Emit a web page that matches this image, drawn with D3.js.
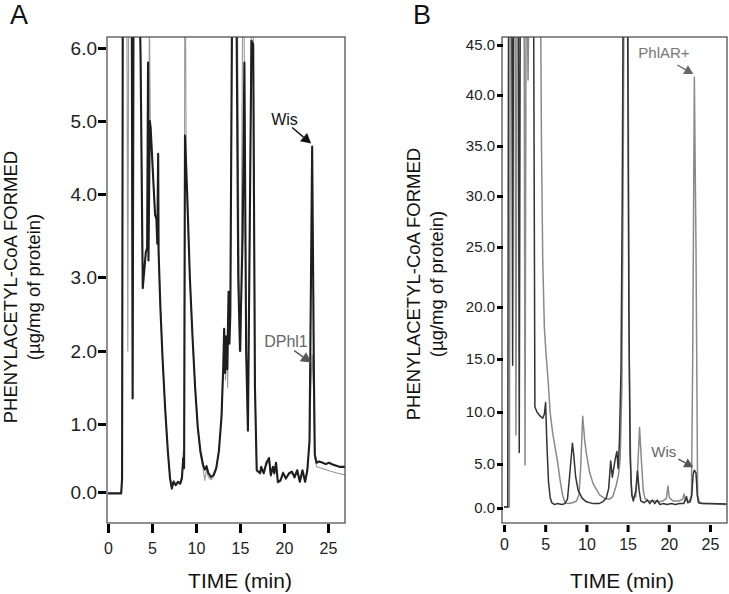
<!DOCTYPE html>
<html><head><meta charset="utf-8">
<script src="https://cdn.jsdelivr.net/npm/d3@7"></script>
<style>
body{margin:0;background:#fff}
svg{display:block}
text{font-family:"Liberation Sans",Arial,Helvetica,sans-serif}
</style>
</head><body>
<svg id="c" width="729" height="594"></svg>
<script>
// ---------------- DATA ----------------
const xTickValues = [0, 5, 10, 15, 20, 25];
const aYTickValues = [0, 1, 2, 3, 4, 5, 6];
const bYTickValues = [0, 5, 10, 15, 20, 25, 30, 35, 40, 45];
const panelLabels = ["A", "B"];
const yTitleLine1 = "PHENYLACETYL-CoA FORMED";
const yTitleLine2 = "(µg/mg of protein)";
const xTitle = "TIME (min)";

// Panel A, black trace (Wis) [time, value]
const aWis = [[0,-0.02],[1.5,-0.02],[1.6,0.2],[1.68,6.6],[2.7,6.6],[2.8,1.35],[2.9,6.6],[3.6,6.6],[3.7,5.9],[3.95,2.85],
 [4.3,3.3],[4.45,3.35],[4.55,5.8],[4.6,3.2],[4.75,5.0],[4.85,4.9],[5.1,4.3],[5.35,3.75],[5.5,3.7],[5.6,3.4],[5.7,4.55],
 [5.75,3.3],[5.95,2.6],[6.2,1.9],[6.5,1.2],[6.8,0.6],[7.05,0.2],[7.25,0.05],[7.45,0.15],[7.7,0.1],[7.95,0.15],[8.2,0.12],
 [8.4,0.2],[8.55,0.5],[8.65,0.35],[8.75,4.8],[9.0,4.0],[9.3,3.0],[9.6,2.2],[9.9,1.5],[10.2,0.95],[10.5,0.6],[10.8,0.4],
 [11.0,0.33],[11.2,0.38],[11.4,0.28],[11.7,0.22],[12.0,0.25],[12.3,0.35],[12.6,0.6],[12.9,1.1],[13.1,1.8],[13.2,2.3],
 [13.3,1.7],[13.45,2.2],[13.55,1.75],[13.7,2.8],[13.8,2.1],[13.9,2.5],[14.1,6.6],[14.6,6.6],[14.8,3.0],[15.0,2.0],
 [15.3,3.5],[15.5,5.8],[15.7,2.0],[15.9,0.9],[16.1,3.5],[16.3,6.1],[16.5,6.05],[16.7,1.5],[16.9,0.32],[17.3,0.28],
 [17.4,0.37],[17.7,0.28],[18.0,0.43],[18.3,0.5],[18.5,0.25],[18.75,0.37],[18.9,0.28],[19.1,0.43],[19.3,0.15],[19.6,0.17],
 [19.9,0.28],[20.2,0.2],[20.6,0.28],[20.9,0.3],[21.2,0.22],[21.5,0.32],[21.8,0.15],[22.1,0.32],[22.4,0.15],[22.65,0.32],
 [22.9,0.75],[23.0,2.1],[23.2,4.65],[23.4,1.65],[23.5,0.55],[23.7,0.43],[24.0,0.45],[24.4,0.43],[24.75,0.41],[25.1,0.43],
 [25.6,0.4],[26.3,0.37],[27.0,0.37]];

// Panel A, grey trace (DPhl1)
const aDPhl1 = [[0,-0.02],[1.5,-0.02],[1.6,0.2],[1.68,6.6],[2.15,6.6],[2.25,2.0],[2.35,6.6],[2.7,6.6],[2.8,1.4],[2.9,6.6],
 [3.6,6.6],[3.7,5.9],[3.95,2.9],[4.3,3.3],[4.45,3.35],[4.55,5.8],[4.6,3.2],[4.7,6.6],[4.8,5.0],[4.9,4.8],[5.1,4.3],
 [5.35,3.75],[5.5,3.7],[5.75,3.3],[5.95,2.6],[6.2,1.9],[6.5,1.2],[6.8,0.6],[7.05,0.22],[7.25,0.08],[7.45,0.17],[7.7,0.12],
 [7.95,0.15],[8.2,0.14],[8.4,0.25],[8.55,0.6],[8.65,0.4],[8.72,6.6],[8.8,6.6],[8.9,4.2],[9.3,3.0],[9.6,2.2],[9.9,1.5],
 [10.2,0.95],[10.5,0.55],[10.8,0.35],[11.0,0.17],[11.2,0.33],[11.4,0.22],[11.7,0.18],[12.0,0.22],[12.3,0.33],[12.6,0.6],
 [12.9,1.1],[13.1,1.8],[13.2,2.2],[13.35,1.6],[13.5,2.1],[13.6,1.5],[13.7,2.7],[13.9,2.4],[14.1,6.6],[14.7,6.6],[14.9,3.0],
 [15.1,2.0],[15.3,6.6],[15.45,6.6],[15.7,2.0],[15.9,1.0],[16.1,3.5],[16.3,6.6],[16.5,6.6],[16.7,1.5],[16.9,0.3],[17.3,0.26],
 [17.4,0.34],[17.7,0.26],[18.0,0.4],[18.3,0.45],[18.5,0.22],[18.75,0.35],[18.9,0.25],[19.1,0.4],[19.3,0.13],[19.6,0.15],
 [19.9,0.3],[20.2,0.18],[20.6,0.26],[20.9,0.28],[21.2,0.2],[21.5,0.3],[21.8,0.14],[22.1,0.3],[22.4,0.14],[22.65,0.3],
 [22.9,0.75],[23.05,1.5],[23.2,1.95],[23.35,1.5],[23.5,0.5],[23.7,0.37],[24.0,0.36],[24.5,0.34],[25.2,0.31],[26.0,0.28],
 [27.0,0.25]];

// Panel B, dark trace (Wis)
const bWis = [[0,0.1],[0.45,0.1],[0.55,48],[0.95,48],[1.05,14.4],[1.15,48],[1.75,48],[1.85,6.1],[1.97,48],[3.6,48],
 [3.75,10.5],[4.0,10.0],[4.4,9.6],[4.7,9.4],[4.9,9.8],[5.05,10.9],
 [5.2,7.0],[5.4,3.0],[5.6,1.2],[5.8,0.6],[6.1,0.4],[6.5,0.5],[7.0,0.4],[7.4,0.5],[7.7,1.0],[7.95,3.5],[8.3,7.0],[8.45,6.0],
 [8.7,3.5],[9.0,2.0],[9.5,1.1],[10.0,0.7],[10.8,0.5],[11.5,0.5],[12.0,0.7],[12.4,1.1],[12.7,2.2],[12.95,5.3],[13.15,3.5],
 [13.5,5.5],[13.7,6.2],[13.85,4.5],[14.0,7.0],[14.2,14],[14.35,30],[14.45,48],[15.0,48],[15.15,20],[15.3,6],[15.5,1.5],
 [15.7,0.8],[16.0,2.0],[16.2,4.2],[16.4,2.0],[16.6,0.8],[17.0,0.6],[17.4,0.9],[17.7,0.5],[18.0,0.9],[18.3,0.5],[18.6,0.9],
 [18.9,0.4],[19.3,0.5],[19.8,0.4],[20.3,0.5],[20.8,0.4],[21.3,0.5],[21.8,0.5],[22.0,0.9],[22.15,1.3],[22.3,0.6],[22.6,0.7],
 [22.8,1.5],[22.95,3.8],[23.1,4.3],[23.3,4.0],[23.45,1.5],[23.6,0.6],[24.0,0.5],[25.0,0.5],[27.0,0.45]];

// Panel B, grey trace (PhlAR+)
const bPhlAR = [[0,0.1],[0.65,0.1],[0.75,48],[1.35,48],[1.45,7.8],[1.58,48],[2.45,48],[2.55,4.9],[2.68,48],[2.85,48],
 [2.92,41.5],[3.0,48],[4.45,48],[4.55,35],[4.7,24],[4.9,18],[5.1,15.5],[5.35,13],[5.6,10],
 [5.9,8.0],[6.2,6.6],[6.5,5.2],[6.8,3.2],[7.1,1.5],[7.4,0.6],[7.8,0.5],[8.3,0.6],[8.8,0.8],[9.1,1.5],[9.3,4.5],[9.55,9.6],
 [9.8,7.2],[10.0,6.0],[10.4,4.0],[10.8,2.8],[11.6,1.5],[12.2,1.1],[12.8,1.0],[13.2,1.3],[13.6,2.5],[13.9,3.8],[14.1,5.5],
 [14.3,12],[14.45,30],[14.55,48],[15.05,48],[15.2,15],[15.4,3],[15.6,1.2],[16.0,1.3],[16.2,4.0],[16.45,8.5],[16.7,5.0],
 [16.9,2.0],[17.1,1.1],[17.5,0.8],[18.2,0.8],[18.8,0.7],[19.3,0.8],[19.7,1.1],[19.9,2.5],[20.05,1.2],[20.5,0.8],[21.2,0.8],
 [21.7,1.0],[21.85,1.6],[22.0,0.9],[22.5,0.8],[22.75,1.5],[22.9,15],[23.1,41.8],[23.3,25],[23.5,1.5],[23.7,0.7],[24.2,0.5],
 [25.5,0.45],[27.0,0.4]];

// annotated points (time, value the arrow points at)
const annotations = [
  {panel:0, text:"Wis",    at:[23.2, 4.65], color:"#111", head:"#111"},
  {panel:0, text:"DPhl1",  at:[23.2, 1.8],  color:"#666", head:"#555"},
  {panel:1, text:"PhlAR+", at:[23.1, 41.8], color:"#777", head:"#666"},
  {panel:1, text:"Wis",    at:[23.1, 4.3],  color:"#666", head:"#555"}
];

// ---------------- LAYOUT ----------------
const svg = d3.select("#c");
const panels = [
  {frame:{l:107,r:345,t:37,b:523}, xr:[108,328], yDom:aYTickValues, yRange:[492,424,351,277,194,121,48],
   yFmt:d3.format(".1f"), yFont:19, yTick:8, yAxisX:106, yPad:1,
   xAxisY:524, xTick:9, xPad:10, xFont:16,
   series:[{d:aDPhl1,c:"#9a9a9a",w:1.1},{d:aWis,c:"#1e1e1e",w:2.1}],
   label:{x:10,y:24}, t1x:16.5, t2x:40, tcy:287, xtY:588, xtX:240},
  {frame:{l:502,r:727,t:37,b:523}, xr:[504,710], yDom:bYTickValues, yRange:[508,464,412,359,307,247,196,146,95,45],
   yFmt:d3.format(".1f"), yFont:15, yTick:6, yAxisX:503, yPad:2,
   xAxisY:525, xTick:7, xPad:7, xFont:16,
   series:[{d:bPhlAR,c:"#8a8a8a",w:1.5},{d:bWis,c:"#333",w:1.5}],
   label:{x:413,y:24}, t1x:420, t2x:443, tcy:284, xtY:588, xtX:622}
];

panels.forEach((p,i)=>{
  const x = d3.scaleLinear().domain([0,25]).range(p.xr);
  const y = d3.scaleLinear().domain(p.yDom).range(p.yRange);
  p.x=x; p.y=y;
  const g = svg.append("g");
  const clipId = "clip"+i;
  svg.append("clipPath").attr("id",clipId).append("rect")
    .attr("x",p.frame.l).attr("y",p.frame.t).attr("width",p.frame.r-p.frame.l).attr("height",p.frame.b-p.frame.t);

  const line = d3.line().x(d=>x(d[0])).y(d=>y(d[1]));
  const lg = g.append("g").attr("clip-path",`url(#${clipId})`);
  p.series.forEach(s=>{
    lg.append("path").attr("d",line(s.d)).attr("fill","none").attr("stroke",s.c)
      .attr("stroke-width",s.w).attr("stroke-linejoin","round");
  });

  // frame
  g.append("rect").attr("x",p.frame.l).attr("y",p.frame.t)
    .attr("width",p.frame.r-p.frame.l).attr("height",p.frame.b-p.frame.t)
    .attr("fill","none").attr("stroke","#444").attr("stroke-width",1.2);

  // y axis
  const ya = g.append("g").attr("transform",`translate(${p.yAxisX},0)`)
    .call(d3.axisLeft(y).tickValues(p.yDom).tickFormat(p.yFmt).tickSize(p.yTick).tickPadding(p.yPad));
  ya.select(".domain").remove();
  ya.selectAll(".tick line").attr("stroke","#000").attr("stroke-width",3);
  ya.selectAll(".tick text").attr("font-size",p.yFont).attr("fill","#222")
    .style("font-family",'"Liberation Sans",Arial,sans-serif');

  // x axis
  const xa = g.append("g").attr("transform",`translate(0,${p.xAxisY})`)
    .call(d3.axisBottom(x).tickValues(xTickValues).tickSize(p.xTick).tickPadding(p.xPad));
  xa.select(".domain").remove();
  xa.selectAll(".tick line").attr("stroke","#000").attr("stroke-width",3);
  xa.selectAll(".tick text").attr("font-size",p.xFont).attr("fill","#222")
    .style("font-family",'"Liberation Sans",Arial,sans-serif');

  // titles
  g.append("text").attr("x",p.xtX).attr("y",p.xtY).attr("text-anchor","middle")
    .attr("font-size",21).attr("fill","#111").text(xTitle);
  g.append("text").attr("transform",`translate(${p.t1x},${p.tcy}) rotate(-90)`).attr("text-anchor","middle")
    .attr("font-size",18.5).attr("fill","#111").text(yTitleLine1);
  g.append("text").attr("transform",`translate(${p.t2x},${p.tcy}) rotate(-90)`).attr("text-anchor","middle")
    .attr("font-size",18.5).attr("fill","#111").text(yTitleLine2);
  g.append("text").attr("x",p.label.x).attr("y",p.label.y).attr("font-size",27).attr("fill","#111").text(panelLabels[i]);
});

// annotations: text + arrow pointing at a point of the peak
const annOffsets = [
  {tx:-40, ty:-19, fs:16, ax1:-19, ay1:-16, head:10},
  {tx:-47, ty:-16, fs:16, ax1:-17, ay1:-12, head:10},
  {tx:-55, ty:-16, fs:15, ax1:-16, ay1:-9,  head:9},
  {tx:-42, ty:-10, fs:15, ax1:-15, ay1:-8,  head:9}
];
function arrow(x1,y1,x2,y2,col,size){
  const ang = Math.atan2(y2-y1,x2-x1);
  const bx = x2 - size*Math.cos(ang), by = y2 - size*Math.sin(ang);
  svg.append("line").attr("x1",x1).attr("y1",y1).attr("x2",bx).attr("y2",by)
    .attr("stroke",col).attr("stroke-width",1.4);
  const w = size*0.55;
  const pts = [[x2,y2],[bx + w*Math.sin(ang), by - w*Math.cos(ang)],[bx - w*Math.sin(ang), by + w*Math.cos(ang)]];
  svg.append("polygon").attr("points",pts.map(q=>q.join(",")).join(" ")).attr("fill",col);
}
annotations.forEach((a,i)=>{
  const p = panels[a.panel], o = annOffsets[i];
  const px = p.x(a.at[0]) - 1, py = p.y(a.at[1]) - 3;
  svg.append("text").attr("x",px+o.tx).attr("y",py+o.ty).attr("font-size",o.fs).attr("fill",a.color).text(a.text);
  arrow(px+o.ax1, py+o.ay1, px, py, a.head, o.head);
});
</script>
</body></html>
